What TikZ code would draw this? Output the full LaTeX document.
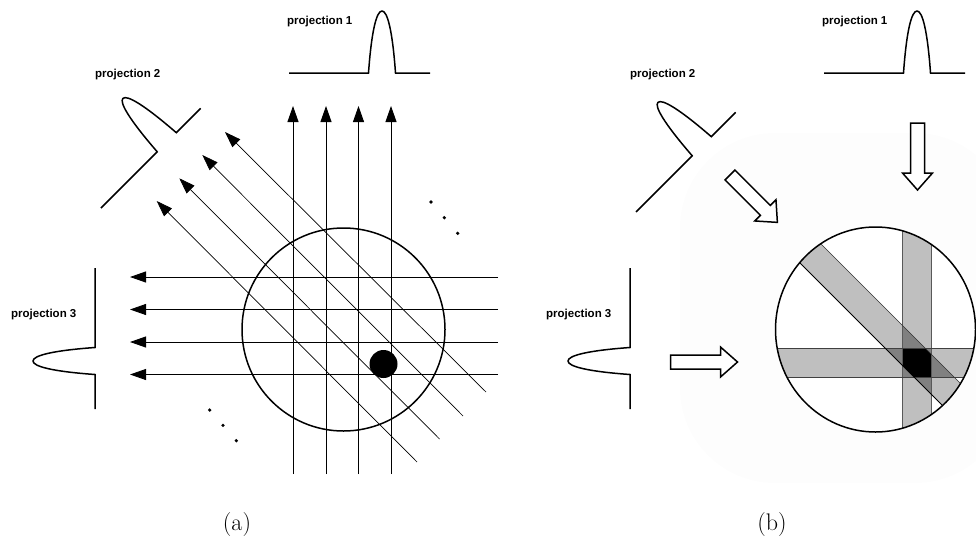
\documentclass[tikz,border=0pt]{standalone}
\usepackage{fontspec}
\newfontfamily\labfont{Liberation Sans}
\usetikzlibrary{arrows.meta}
\newcommand\drawprofile[1]{\draw[#1] (0,0) -- (79.5,0) .. controls (82.5,42) and (87.5,62) .. (93,62) .. controls (98.5,62) and (103.5,42) .. (106.5,0) -- (141,0);}
\newcommand\hollowarrow[3]{\begin{scope}[shift={(#1,#2)}, rotate=#3]
  \draw[harrow] (0,-7) -- (50,-7) -- (50,-15) -- (67,0) -- (50,15) -- (50,7) -- (0,7) -- cycle;
\end{scope}}
\begin{document}
\begin{tikzpicture}[x=1pt,y=-1pt,
  prof/.style={line width=1.5pt, line join=miter},
  ray/.style={line width=0.9pt, -{Triangle[length=16pt,width=11pt]}},
  dray/.style={line width=0.7pt, -{Triangle[length=16pt,width=11pt]}},
  harrow/.style={line width=1.5pt, fill=white, line join=miter},
  lbl/.style={font=\labfont\bfseries\fontsize{11.5}{13}\selectfont, inner sep=0pt},
  captext/.style={font=\fontsize{24}{28}\selectfont, inner sep=0pt},
  bandedge/.style={line width=0.8pt, black!65}]
\useasboundingbox (0,0) rectangle (976,538);
\clip (0,0) rectangle (976,538);

% faint background of panel (b)
\fill[black!0.8, rounded corners=95pt] (680,133) rectangle (1010,483);

% ---------------- panel (a) ----------------
\draw[line width=1.5pt] (343.5,329.5) circle[radius=101.5];
\foreach \x in {293,326,358.5,391}
  \draw[ray] (\x,474) -- (\x,106);
\foreach \y in {277,309.5,342,374.5}
  \draw[ray] (498,\y) -- (130,\y);
\draw[dray] (486,392) -- (225,132);
\draw[dray] (463,416) -- (202.3,155);
\draw[dray] (439.5,439) -- (179.3,178.3);
\draw[dray] (417,462) -- (156.7,201);
\fill (383.5,364) circle[radius=14];
\foreach \p in {(431,202),(444.3,217.7),(457.7,233.3),(209.7,410),(223,425.3),(236.3,440.7)}
  \fill \p circle[radius=1.8];

\begin{scope}[shift={(289,73)}, x={(1pt,0pt)}, y={(0pt,1pt)}]
  \drawprofile{prof}
\end{scope}
\begin{scope}[shift={(101,208)}, x={(0.7071pt,0.7071pt)}, y={(-0.7071pt,0.7071pt)}]
  \drawprofile{prof}
\end{scope}
\begin{scope}[shift={(95,268)}, x={(0pt,-1pt)}, y={(-1pt,0pt)}]
  \drawprofile{prof}
\end{scope}
\node[lbl, anchor=base west] (p1a) at (287,24) {projection 1};
\node[lbl, anchor=base west] (p2a) at (95,77) {projection 2};
\node[lbl, anchor=base west] (p3a) at (11,317.5) {projection 3};
\node[captext, anchor=base] (capa) at (237,530) {(a)};

% ---------------- panel (b) ----------------
\begin{scope}[shift={(824,73)}, x={(1pt,0pt)}, y={(0pt,1pt)}]
  \drawprofile{prof}
\end{scope}
\begin{scope}[shift={(636,212)}, x={(0.7071pt,0.7071pt)}, y={(-0.7071pt,0.7071pt)}]
  \drawprofile{prof}
\end{scope}
\begin{scope}[shift={(630,268)}, x={(0pt,-1pt)}, y={(-1pt,0pt)}]
  \drawprofile{prof}
\end{scope}
\node[lbl, anchor=base west] (p1b) at (822,24) {projection 1};
\node[lbl, anchor=base west] (p2b) at (630,77) {projection 2};
\node[lbl, anchor=base west] (p3b) at (546,317.5) {projection 3};
\node[captext, anchor=base] (capb) at (772,530) {(b)};

\hollowarrow{917.5}{123}{-90}
\hollowarrow{730}{175}{-45}
\hollowarrow{670.5}{362}{0}

\begin{scope}
  \fill[white] (875.5,329.5) ellipse [x radius=100, y radius=102.5];
  \clip (875.5,329.5) ellipse [x radius=100, y radius=102.5];
  \fill[black!25] (902,200) rectangle (931,460);
  \fill[black!25] (760,348) rectangle (990,377);
  \fill[black!25] (700,123) -- (1100,523) -- (1100,563) -- (700,163) -- cycle;
  \begin{scope}
    \clip (902,200) rectangle (931,460);
    \fill[black!50] (760,348) rectangle (990,377);
    \fill[black!50] (700,123) -- (1100,523) -- (1100,563) -- (700,163) -- cycle;
  \end{scope}
  \begin{scope}
    \clip (760,348) rectangle (990,377);
    \fill[black!50] (700,123) -- (1100,523) -- (1100,563) -- (700,163) -- cycle;
    \clip (902,200) rectangle (931,460);
    \fill[black] (700,123) -- (1100,523) -- (1100,563) -- (700,163) -- cycle;
  \end{scope}
  \draw[bandedge] (902,200) -- (902,460) (931,200) -- (931,460);
  \draw[bandedge, black!75] (760,348) -- (990,348) (760,377) -- (990,377);
  \draw[line width=0.6pt, black!80] (700,123) -- (1100,523);
  \draw[line width=0.8pt] (700,163) -- (1100,563);
\end{scope}
\draw[line width=1.5pt] (875.5,329.5) ellipse [x radius=100, y radius=102.5];
\end{tikzpicture}
\end{document}
